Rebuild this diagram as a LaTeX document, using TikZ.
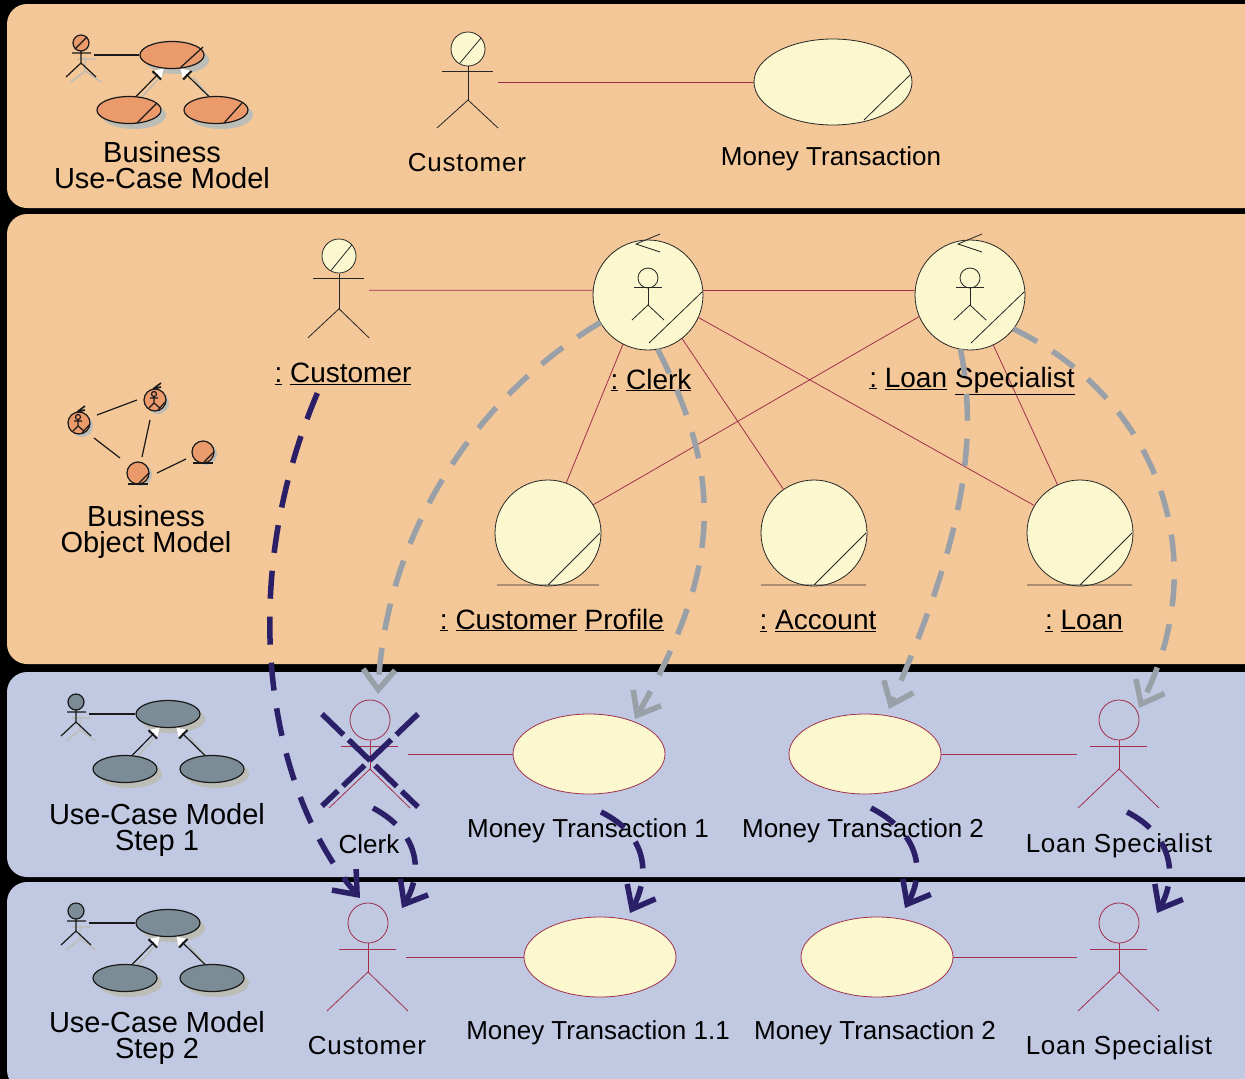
\documentclass[tikz,border=0pt]{standalone}
\usepackage{fontspec}
\setmainfont{Liberation Sans}
\usetikzlibrary{arrows.meta,shapes.geometric}
\definecolor{panelorange}{HTML}{F3C797}
\definecolor{panelblue}{HTML}{C0C8E2}
\definecolor{caseyellow}{HTML}{FBF8CF}
\definecolor{linkred}{HTML}{A0304C}
\definecolor{flowgray}{HTML}{99A0A8}
\definecolor{flownavy}{HTML}{2B2068}
\definecolor{iconorange}{HTML}{EB9A6C}
\definecolor{icongray}{HTML}{7C8C96}
\definecolor{iconshadow}{HTML}{BDBDB8}
\newcommand{\ulname}[1]{\underline{:}\ \underline{#1}}
\tikzset{
	panel/.style={rounded corners=20,inner sep=0},
	link/.style={draw=linkred,line width=0.8},
	outline/.style={draw=black!85,line width=0.8},
	bizcircle/.style={circle,outline,fill=caseyellow,inner sep=0,outer sep=0,minimum size=#1},
	bizcase/.style={ellipse,outline,fill=caseyellow,inner sep=0,outer sep=0,minimum width=158,minimum height=86},
	stepcase/.style={ellipse,link,fill=caseyellow,inner sep=0,outer sep=0,minimum width=152,minimum height=80},
	modeltext/.style={font=\fontsize{29}{26}\selectfont,align=center,inner sep=0},
	nametext/.style={font=\fontsize{26}{26}\selectfont,inner sep=0},
	widetext/.style={font=\fontsize{26}{26}\selectfont\addfontfeature{LetterSpace=3},inner sep=0},
	objtext/.style={font=\fontsize{28}{28}\selectfont,inner sep=0},
	grayflow/.style={draw=flowgray,line width=5.5,dash pattern=on 27 off 18,-{Straight Barb[length=20,width=32,line width=5.5]}},
	navyflow/.style={draw=flownavy,line width=5.5,dash pattern=on 28 off 18,-{Straight Barb[length=20,width=32,line width=5.5]}},
	crossout/.style={draw=flownavy,line width=5.5,dash pattern=on 30 off 7},
	iconline/.style={draw=black!90,line width=1.2},
	iconshade/.style={draw=iconshadow,line width=1.4},
	iconarrow/.style={iconline,-{Bar[width=12,line width=2,sep=0.5]Triangle[white,length=8,width=10]}},
	pics/actorbiz/.style={code={
		\node[bizcircle=34] (-head) at (0,0) {};
		\draw[outline] (-8,14) -- (13,-11);
		\draw[outline] (-26,22) -- (25,22);
		\draw[outline] (0,17) -- (0,51);
		\draw[outline] (-31,79) -- (0,51) -- (30,79);
		\coordinate (-out) at (30,33);
	}},
	pics/actorstep/.style={code={
		\node[circle,link,inner sep=0,minimum size=40] (-head) at (0,0) {};
		\draw[link] (-29,26) -- (28,26);
		\draw[link] (0,20) -- (0,49);
		\draw[link] (-41,88) -- (0,49) -- (40,88);
		\coordinate (-out) at (38,34);
		\coordinate (-in) at (-42,34);
	}},
	pics/worker/.style={code={
		\node[circle,outline,inner sep=0,minimum size=20] (-head) at (0,-17) {};
		\draw[outline] (-14,-8) -- (14,-8);
		\draw[outline] (0,-7) -- (0,10);
		\draw[outline] (-16,25) -- (0,10) -- (16,25);
		\draw[outline] (12,-61) -- (-12,-51) -- (12,-43);
		\draw[outline] (1,48) -- (54,-3);
	}},
	pics/iconactor/.style={code={
		\draw[iconshade] (-4,16) -- (15,16) (4,14) -- (4,28) (-10,39) -- (4,28) -- (20,39);
		\node[circle,iconline,fill=#1,inner sep=0,minimum size=16] (-head) at (0,0) {};
		\draw[iconline] (-9,10) -- (10,10) (0,8) -- (0,20) (-15,34) -- (0,20) -- (15,34);
		\coordinate (-out) at (13,12);
	}},
	pics/iconmodel/.style={code={
		\fill[iconshadow] (5,5) ellipse (32 and 14);
		\fill[iconshadow] (-38,60) ellipse (32 and 14);
		\fill[iconshadow] (49,60) ellipse (32 and 14);
		\draw[iconshade] (-33,45) -- (-8,18) (38,42) -- (21,22);
		\node[ellipse,iconline,fill=#1,inner sep=0,minimum width=64,minimum height=27] (-top) at (0,0) {};
		\node[ellipse,iconline,fill=#1,inner sep=0,minimum width=64,minimum height=27] (-left) at (-43,55) {};
		\node[ellipse,iconline,fill=#1,inner sep=0,minimum width=64,minimum height=27] (-right) at (44,55) {};
		\draw[iconarrow] (-left.62) -- (-top.-122);
		\draw[iconarrow] (-right.118) -- (-top.-58);
	}},
	pics/iconslashes/.style={code={
		\draw[iconline] (8,13) -- (31,-8);
		\draw[iconline] (-35,68) -- (-15,48);
		\draw[iconline] (52,68) -- (70,48);
	}},
	pics/miniworker/.style={code={
		\fill[iconshadow] (3,3) circle (11);
		\node[circle,iconline,fill=iconorange,inner sep=0,minimum size=22] (-body) at (0,0) {};
		\draw[iconline] (-1,-6) circle (2.5);
		\draw[iconline] (-5,-2) -- (3,-2) (-1,-3) -- (-1,3) (-6,8) -- (-1,3) -- (5,8) (3,10) -- (11,1);
		\draw[iconline,line width=1.6] (-2,-11) -- (6,-17) (-2,-11) -- (6,-13);
	}},
	pics/minientity/.style={code={
		\fill[iconshadow] (3,2) circle (11);
		\node[circle,iconline,fill=iconorange,inner sep=0,minimum size=22] (-body) at (0,0) {};
		\draw[iconline] (1,10) -- (11,0);
		\draw[iconline,line width=1.6] (-10,11) -- (10,11);
	}},
}

\begin{document}
\begin{tikzpicture}[x=1pt,y=-1pt]
	\useasboundingbox (0,0) rectangle (1245,1079);
	\fill[black] (0,0) rectangle (1245,1079);
	% panels
	\fill[panelorange,panel] (7,4) rectangle (1285,208);
	\fill[panelorange,panel] (7,214) rectangle (1285,664);
	\fill[panelblue,panel] (7,672) rectangle (1285,877);
	\fill[panelblue,panel] (7,882) rectangle (1285,1090);
	% model icons
	\pic (ucicon) at (172,55) {iconmodel=iconorange};
	\pic at (172,55) {iconslashes};
	\pic (ucactor) at (81,43) {iconactor=iconorange};
	\draw[iconline] (ucactor-out) -- (ucicon-top);
	\draw[iconline] (ucactor-head.-135) -- (ucactor-head.45);
	\node[modeltext] (ucmodel) at (162,165) {Business\\Use-Case Model};
	\pic (objone) at (79,423) {miniworker};
	\pic (objtwo) at (155,400) {miniworker};
	\pic (objthree) at (138,473) {minientity};
	\pic (objfour) at (203,452) {minientity};
	\draw[iconline] (objone-body) ++(18,-8) -- ++(40,-15);
	\draw[iconline] (objone-body) ++(15,15) -- ++(26,20);
	\draw[iconline] (objtwo-body) ++(-5,20) -- ++(-8,37);
	\draw[iconline] (objthree-body) ++(19,0) -- ++(29,-14);
	\node[modeltext] (objmodel) at (146,532) {Business\\Object Model};
	\pic (oneicon) at (168,714) {iconmodel=icongray};
	\pic (oneactor) at (76,702) {iconactor=icongray};
	\draw[iconline] (oneactor-out) -- (oneicon-top);
	\node[modeltext] (onemodel) at (157,830) {Use-Case Model\\Step 1};
	\pic (twoicon) at (168,923) {iconmodel=icongray};
	\pic (twoactor) at (76,911) {iconactor=icongray};
	\draw[iconline] (twoactor-out) -- (twoicon-top);
	\node[modeltext] (twomodel) at (157,1038) {Use-Case Model\\Step 2};
	% business use case
	\pic (bizcust) at (468,49) {actorbiz};
	\node[bizcase] (bizmoney) at (833,82) {};
	\draw[outline] (864,120) -- (910,75);
	\draw[link] (bizcust-out) -- (bizmoney.west);
	\node[widetext] (bizcustname) at (467,163) {Customer};
	\node[nametext] (bizmoneyname) at (831,159) {Money Transaction};
	% business objects
	\pic[yscale=1.035] (objcust) at (339,256) {actorbiz};
	\node[bizcircle=110] (clerk) at (648,295) {};
	\node[bizcircle=110] (loanspec) at (970,295) {};
	\pic at (648,295) {worker};
	\pic at (970,295) {worker};
	\node[bizcircle=106] (profile) at (548,533) {};
	\node[bizcircle=106] (account) at (814,533) {};
	\node[bizcircle=106] (loan) at (1080,533) {};
	\draw[outline] (497,585) -- (599,585) (548,585) -- (600,533);
	\draw[outline] (761,585) -- (866,585) (814,585) -- (866,533);
	\draw[outline] (1027,585) -- (1132,585) (1080,585) -- (1132,533);
	\draw[link] (objcust-out) -- (clerk.175);
	\draw[link] (clerk.5) -- (loanspec.175);
	\draw[link] (clerk.-117) -- (profile.70);
	\draw[link] (clerk.-52) -- (account.125);
	\draw[link] (clerk.-24) -- (loan.149);
	\draw[link] (loanspec.203) -- (profile.32);
	\draw[link] (loanspec.-65) -- (loan.115);
	\node[objtext] (objcustname) at (343,374) {\ulname{Customer}};
	\node[objtext] (clerkname) at (651,380) {\ulname{Clerk}};
	\node[objtext] (loanspecname) at (972,381) {\ulname{Loan}\ \underline{Specialist}};
	\node[objtext] (profilename) at (552,620) {\ulname{Customer}\ \underline{Profile}};
	\node[objtext] (accountname) at (818,621) {\ulname{Account}};
	\node[objtext] (loanname) at (1084,621) {\ulname{Loan}};
	% step 1
	\pic (stepclerk) at (370,720) {actorstep};
	\node[stepcase] (moneyone) at (589,754) {};
	\node[stepcase] (moneytwo) at (865,754) {};
	\pic (steploan) at (1119,720) {actorstep};
	\draw[link] (stepclerk-out) -- (moneyone.west);
	\draw[link] (moneytwo.east) -- (steploan-in);
	\node[nametext] (stepclerkname) at (369,844) {Clerk};
	\node[nametext] (moneyonename) at (588,831) {Money Transaction 1};
	\node[nametext] (moneytwoname) at (863,831) {Money Transaction 2};
	\node[widetext] (steploanname) at (1119,846) {Loan Specialist};
	% step 2
	\pic (nextcust) at (368,923) {actorstep};
	\node[stepcase] (moneyoneone) at (600,957) {};
	\node[stepcase] (moneynext) at (877,957) {};
	\pic (nextloan) at (1119,923) {actorstep};
	\draw[link] (nextcust-out) -- (moneyoneone.west);
	\draw[link] (moneynext.east) -- (nextloan-in);
	\node[widetext] (nextcustname) at (367,1046) {Customer};
	\node[nametext] (moneyoneonename) at (598,1033) {Money Transaction 1.1};
	\node[nametext] (moneynextname) at (875,1033) {Money Transaction 2};
	\node[widetext] (nextloanname) at (1119,1048) {Loan Specialist};
	% flows
	\coordinate (clerkdrop) at (378,694);
	\coordinate (onedrop) at (635,719);
	\coordinate (twodrop) at (889,709);
	\coordinate (loandrop) at (1139,708);
	\coordinate (custland) at (360,898);
	\coordinate (clerkland) at (402,908);
	\coordinate (oneland) at (630,913);
	\coordinate (twoland) at (905,908);
	\coordinate (loanland) at (1157,913);
	\coordinate (clerkfoot) at (373,808);
	\coordinate (onefoot) at (601,812);
	\coordinate (twofoot) at (871,808);
	\coordinate (loanfoot) at (1127,812);
	\draw[grayflow] (clerk.-150) .. controls (470,400) and (385,540) .. (clerkdrop);
	\draw[grayflow] (clerk.-80) .. controls (725,480) and (720,570) .. (onedrop);
	\draw[grayflow] (loanspec.-100) .. controls (985,470) and (940,590) .. (twodrop);
	\draw[grayflow] (loanspec.-38) .. controls (1160,400) and (1215,560) .. (loandrop);
	\draw[navyflow] (objcustname.south west) ++(43,8) .. controls (230,600) and (275,800) .. (custland);
	\draw[navyflow] (clerkfoot) .. controls (418,832) and (424,870) .. (clerkland);
	\draw[navyflow] (onefoot) .. controls (648,835) and (650,875) .. (oneland);
	\draw[navyflow] (twofoot) .. controls (918,832) and (926,870) .. (twoland);
	\draw[navyflow] (loanfoot) .. controls (1172,835) and (1178,875) .. (loanland);
	% crossed out
	\coordinate (crossa) at (322,714);
	\coordinate (crossb) at (418,807);
	\coordinate (crossc) at (418,714);
	\coordinate (crossd) at (322,806);
	\draw[crossout] (crossa) -- (crossb);
	\draw[crossout] (crossc) -- (crossd);
\end{tikzpicture}
\end{document}
